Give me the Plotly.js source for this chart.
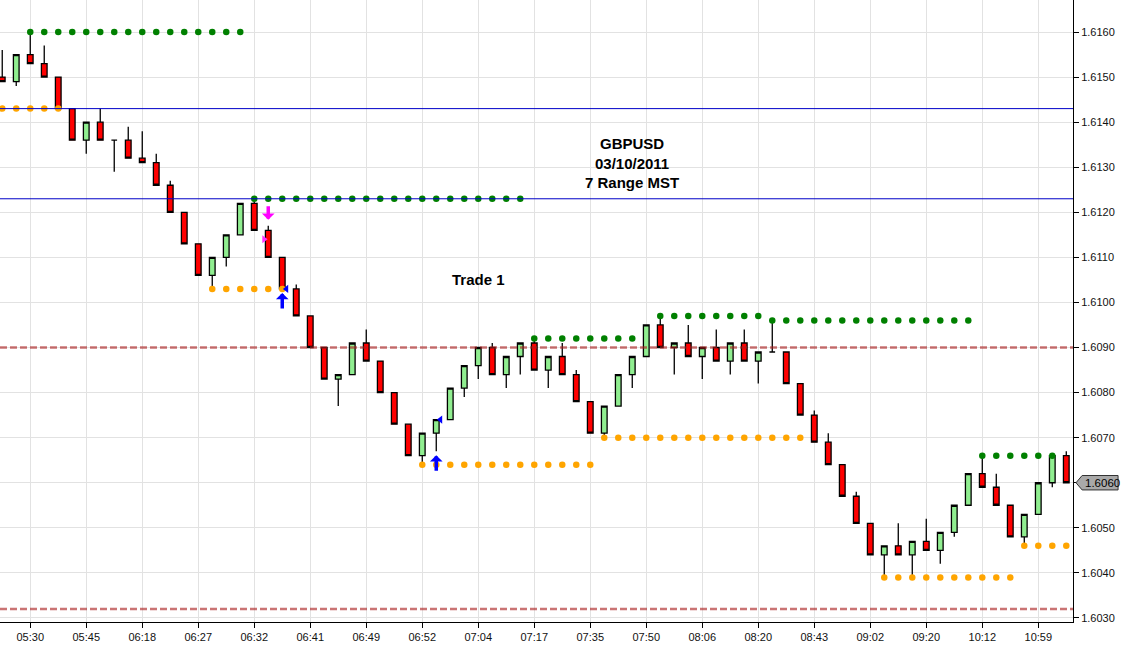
<!DOCTYPE html>
<html>
<head>
<meta charset="utf-8">
<script src="https://cdn.plot.ly/plotly-3.0.1.min.js"></script>
<style>html,body{margin:0;padding:0;background:#fff;}#chart{width:1127px;height:650px;}</style>
</head>
<body>
<div id="chart"></div>
<script>
// ---- Data: 7-pip range bars, GBPUSD 03/10/2011 ----
const openP = [1.6150,1.6149,1.6155,1.6153,1.6150,1.6143,1.6136,1.6140,1.6136,1.6136,
 1.6132,1.6131,1.6126,1.6120,1.6113,1.6106,1.6110,1.6115,1.6122,1.6116,
 1.6110,1.6103,1.6097,1.6090,1.6083,1.6084,1.6091,1.6087,1.6080,1.6073,
 1.6066,1.6071,1.6074,1.6081,1.6086,1.6090,1.6084,1.6088,1.6091,1.6085,
 1.6088,1.6084,1.6078,1.6071,1.6077,1.6084,1.6088,1.6095,1.6090,1.6091,
 1.6088,1.6090,1.6087,1.6091,1.6087,1.6089,1.6089,1.6082,1.6075,1.6069,
 1.6064,1.6057,1.6051,1.6044,1.6046,1.6044,1.6047,1.6045,1.6049,1.6055,
 1.6062,1.6059,1.6055,1.6048,1.6053,1.6060,1.6066];
const highP = [1.6156,1.6155,1.6160,1.6157,1.6150,1.6143,1.6140,1.6143,1.6136,1.6139,
 1.6138,1.6133,1.6127,1.6120,1.6113,1.6110,1.6115,1.6122,1.6123,1.6117,
 1.6110,1.6104,1.6097,1.6090,1.6084,1.6091,1.6094,1.6087,1.6080,1.6073,
 1.6071,1.6074,1.6081,1.6086,1.6090,1.6091,1.6088,1.6091,1.6092,1.6088,
 1.6091,1.6085,1.6078,1.6077,1.6084,1.6088,1.6095,1.6097,1.6091,1.6095,
 1.6090,1.6094,1.6091,1.6094,1.6089,1.6096,1.6089,1.6082,1.6076,1.6071,
 1.6064,1.6058,1.6051,1.6046,1.6051,1.6047,1.6052,1.6049,1.6055,1.6062,
 1.6066,1.6062,1.6055,1.6053,1.6060,1.6066,1.6067];
const lowP = [1.6149,1.6148,1.6153,1.6150,1.6143,1.6136,1.6133,1.6136,1.6129,1.6132,
 1.6131,1.6126,1.6120,1.6113,1.6106,1.6103,1.6108,1.6115,1.6116,1.6110,
 1.6103,1.6097,1.6090,1.6083,1.6077,1.6084,1.6087,1.6080,1.6073,1.6066,
 1.6064,1.6067,1.6074,1.6079,1.6083,1.6084,1.6081,1.6084,1.6085,1.6081,
 1.6084,1.6078,1.6071,1.6070,1.6077,1.6081,1.6088,1.6090,1.6084,1.6088,
 1.6083,1.6087,1.6084,1.6087,1.6082,1.6089,1.6082,1.6075,1.6069,1.6064,
 1.6057,1.6051,1.6044,1.6039,1.6044,1.6039,1.6045,1.6042,1.6048,1.6055,
 1.6059,1.6055,1.6048,1.6046,1.6053,1.6059,1.6060];
const closeP = [1.6149,1.6155,1.6153,1.6150,1.6143,1.6136,1.6140,1.6136,1.6136,1.6132,
 1.6131,1.6126,1.6120,1.6113,1.6106,1.6110,1.6115,1.6122,1.6116,1.6110,
 1.6103,1.6097,1.6090,1.6083,1.6084,1.6091,1.6087,1.6080,1.6073,1.6066,
 1.6071,1.6074,1.6081,1.6086,1.6090,1.6084,1.6088,1.6091,1.6085,1.6088,
 1.6084,1.6078,1.6071,1.6077,1.6084,1.6088,1.6095,1.6090,1.6091,1.6088,
 1.6090,1.6087,1.6091,1.6087,1.6089,1.6089,1.6082,1.6075,1.6069,1.6064,
 1.6057,1.6051,1.6044,1.6046,1.6044,1.6047,1.6045,1.6049,1.6055,1.6062,
 1.6059,1.6055,1.6048,1.6053,1.6060,1.6066,1.6060];

const tickLabels = ['05:30','05:45','06:18','06:27','06:32','06:41','06:49','06:52','07:04','07:17',
 '07:35','07:50','08:06','08:20','08:43','09:02','09:20','10:12','10:59'];
const firstTickBar = 2;
const barsPerTick = 4;
const priceTicks = [1.6030,1.6040,1.6050,1.6060,1.6070,1.6080,1.6090,1.6100,1.6110,1.6120,1.6130,1.6140,1.6150,1.6160];

// Resistance (green dotted) levels: start bar, end bar, price
const resStart = [2, 18, 38, 47, 55, 70];
const resEnd   = [17, 37, 45, 54, 69, 75];
const resPrice = [1.6160, 1.6123, 1.6092, 1.6097, 1.6096, 1.6066];
// Support (orange dotted) levels
const supStart = [0, 15, 30, 43, 63, 73];
const supEnd   = [4, 20, 42, 57, 72, 76];
const supPrice = [1.6143, 1.6103, 1.6064, 1.6070, 1.6039, 1.6046];

// Horizontal reference lines
const solidLines  = [1.6143, 1.6123];
const dashedLines = [1.6090, 1.6032];

// Signals
const sellArrowBars = [19];
const buyArrowBars  = [20, 31];
const shortEntryBars = [19]; const shortEntryPx = [1.6114];
const exitBars = [20, 31];   const exitPx = [1.6103, 1.6074];

// Text
const titleLines = ['GBPUSD', '03/10/2011', '7 Range MST'];
const tradeLabel = 'Trade 1';

// ---- Build ----
const n = openP.length;
const xIdx = openP.map((_, i) => i);
const tickvals = tickLabels.map((_, k) => firstTickBar + k * barsPerTick);
const lastClose = closeP[n - 1];
const priceTickText = priceTicks.map(v => Math.abs(v - lastClose) < 1e-7 ? '' : v.toFixed(4));

function levelPoints(starts, ends, prices) {
  const xs = [], ys = [];
  starts.forEach((s, j) => { for (let i = s; i <= ends[j]; i++) { xs.push(i); ys.push(prices[j]); } });
  return {xs, ys};
}
const res = levelPoints(resStart, resEnd, resPrice);
const sup = levelPoints(supStart, supEnd, supPrice);

const traces = [
  { type:'scatter', mode:'markers', x:res.xs, y:res.ys, hoverinfo:'skip',
    marker:{color:'#008000', size:6.5} },
  { type:'scatter', mode:'markers', x:sup.xs, y:sup.ys, hoverinfo:'skip',
    marker:{color:'#ffa500', size:6.5} },
  { type:'candlestick', x:xIdx, open:openP, high:highP, low:lowP, close:closeP,
    increasing:{fillcolor:'#90ee90', line:{color:'#000', width:1.3}},
    decreasing:{fillcolor:'#ff0000', line:{color:'#000', width:1.3}},
    whiskerwidth:0, hoverinfo:'skip' },
  { type:'scatter', mode:'markers', x:shortEntryBars.map(i => i - 0.3), y:shortEntryPx, hoverinfo:'skip',
    marker:{symbol:'triangle-right', color:'#ff33ff', size:7} },
  { type:'scatter', mode:'markers', x:exitBars.map(i => i + 0.3), y:exitPx, hoverinfo:'skip',
    marker:{symbol:'triangle-left', color:'#0000ff', size:7} }
];

const shapes = [];
solidLines.forEach(v => shapes.push({type:'line', xref:'paper', x0:0, x1:1, yref:'y', y0:v, y1:v,
  line:{color:'#0000c8', width:1}, layer:'above'}));
dashedLines.forEach(v => shapes.push({type:'line', xref:'paper', x0:0, x1:1, yref:'y', y0:v, y1:v,
  line:{color:'rgba(170,30,30,0.62)', width:2.5, dash:'7px,3px'}, layer:'above'}));

const hh = 0.00016;
shapes.push({type:'path', xref:'paper', yref:'y',
  path:`M 1.0028,${lastClose} L 1.0085,${lastClose + hh} L 1.0420,${lastClose + hh} L 1.0420,${lastClose - hh} L 1.0085,${lastClose - hh} Z`,
  fillcolor:'#a9a9a9', line:{color:'#333', width:1}});

const annotations = [];
annotations.push({xref:'paper', yref:'y', x:1.0094, y:lastClose, xanchor:'left', yanchor:'middle',
  text:lastClose.toFixed(4), showarrow:false, font:{size:11.5, color:'#000', family:'Arial, "Liberation Sans", sans-serif'}});
annotations.push({xref:'paper', yref:'y', x:0.589, y:1.61309, xanchor:'center', yanchor:'middle',
  text:titleLines.map(t => '<b>' + t + '</b>').join('<br>'), showarrow:false,
  font:{size:15, color:'#000', family:'Arial, "Liberation Sans", sans-serif'}});
annotations.push({xref:'x', yref:'y', x:34.0, y:1.6105, xanchor:'center', yanchor:'middle',
  text:'<b>' + tradeLabel + '</b>', showarrow:false,
  font:{size:15, color:'#000', family:'Arial, "Liberation Sans", sans-serif'}});
sellArrowBars.forEach(i => annotations.push({x:i, y:highP[i], xref:'x', yref:'y', text:'', showarrow:true,
  ax:0, ay:-21, standoff:6, arrowhead:1, arrowsize:0.6, arrowwidth:3.5, arrowcolor:'#ff00ff'}));
buyArrowBars.forEach(i => annotations.push({x:i, y:lowP[i], xref:'x', yref:'y', text:'', showarrow:true,
  ax:0, ay:21, standoff:4, arrowhead:1, arrowsize:0.6, arrowwidth:3.5, arrowcolor:'#0000ff'}));

const layout = {
  width:1127, height:650,
  margin:{l:0, r:54, t:0, b:28, pad:0},
  paper_bgcolor:'#ffffff', plot_bgcolor:'#ffffff',
  showlegend:false,
  boxgap:0.42,
  hovermode:false,
  font:{family:'Arial, "Liberation Sans", sans-serif', size:11, color:'#111'},
  xaxis:{range:[-0.16, 76.48], tickmode:'array', tickvals:tickvals, ticktext:tickLabels,
    showgrid:true, gridcolor:'#e2e2e2', gridwidth:1, zeroline:false,
    showline:true, linecolor:'#000', linewidth:1, ticks:'outside', ticklen:5, tickcolor:'#000',
    rangeslider:{visible:false}, fixedrange:true, tickfont:{size:11, color:'#111'}},
  yaxis:{side:'right', range:[1.60291, 1.61671], tickmode:'array', tickvals:priceTicks, ticktext:priceTickText,
    showgrid:true, gridcolor:'#e2e2e2', gridwidth:1, zeroline:false,
    showline:true, linecolor:'#000', linewidth:1, ticks:'outside', ticklen:5, tickcolor:'#000',
    fixedrange:true, tickfont:{size:11, color:'#111'}},
  shapes:shapes,
  annotations:annotations
};

Plotly.newPlot('chart', traces, layout, {displayModeBar:false, staticPlot:true});
</script>
</body>
</html>
